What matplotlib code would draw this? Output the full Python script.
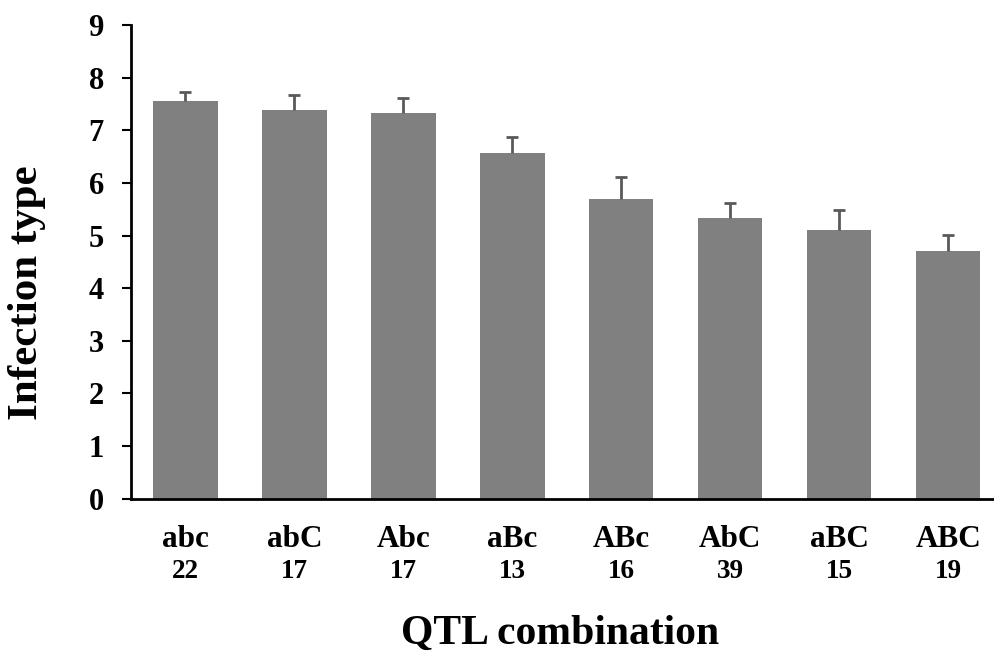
import numpy as np
import matplotlib
matplotlib.use('Agg')
import matplotlib.pyplot as plt
import matplotlib.transforms as mtransforms

# данные
combos = ['abc', 'abC', 'Abc', 'aBc', 'ABc', 'AbC', 'aBC', 'ABC']
counts = ['22', '17', '17', '13', '16', '39', '15', '19']
means = [7.56, 7.39, 7.33, 6.58, 5.70, 5.33, 5.11, 4.70]
errs = [0.18, 0.29, 0.28, 0.30, 0.42, 0.29, 0.38, 0.31]

plt.rcParams['font.family'] = 'Liberation Serif'
plt.rcParams['font.weight'] = 'bold'

fig = plt.figure(figsize=(9.94, 6.53), dpi=100)
ax = fig.add_axes([131 / 994, 1 - 498.5 / 653, 1 - 131 / 994, (498.5 - 25.3) / 653])

x = np.arange(len(combos))
ax.bar(x, means, width=0.59, color='#808080', zorder=2)
# только верхняя половина планки погрешности
eb = ax.errorbar(x, means, yerr=[np.zeros(len(errs)), errs], fmt='none',
                 ecolor='#595959', elinewidth=2, capsize=4.5, capthick=2, zorder=3)
eb[1][0].set_visible(False)

ax.set_ylim(0, 9)
ax.set_xlim(-0.5, 7.42)
ax.set_yticks(range(10))
ax.tick_params(axis='y', labelsize=22, width=1.5, length=6.5, direction='out', pad=13)
ax.set_xticks(x)
ax.set_xticklabels(combos)
ax.tick_params(axis='x', labelsize=22.5, length=0, pad=19)
for lab in ax.get_xticklabels() + ax.get_yticklabels():
    lab.set_fontweight('bold')

# количество растений под подписями
trans = mtransforms.blended_transform_factory(ax.transData, fig.transFigure)
for xi, n in zip(x, counts):
    ax.text(xi, 1 - 572 / 653, n, transform=trans, ha='center', va='center',
            fontsize=19.5, fontweight='bold')

ax.spines['top'].set_visible(False)
ax.spines['right'].set_visible(False)
ax.spines['left'].set_linewidth(2)
ax.spines['bottom'].set_linewidth(2)

fig.text(27 / 994, 1 - 293 / 653, 'Infection type', rotation=90, ha='center', va='center',
         fontsize=31, fontweight='bold')
fig.text(560 / 994, 1 - 634 / 653, 'QTL combination', ha='center', va='center',
         fontsize=30, fontweight='bold')

fig.savefig('out.png', dpi=100)
